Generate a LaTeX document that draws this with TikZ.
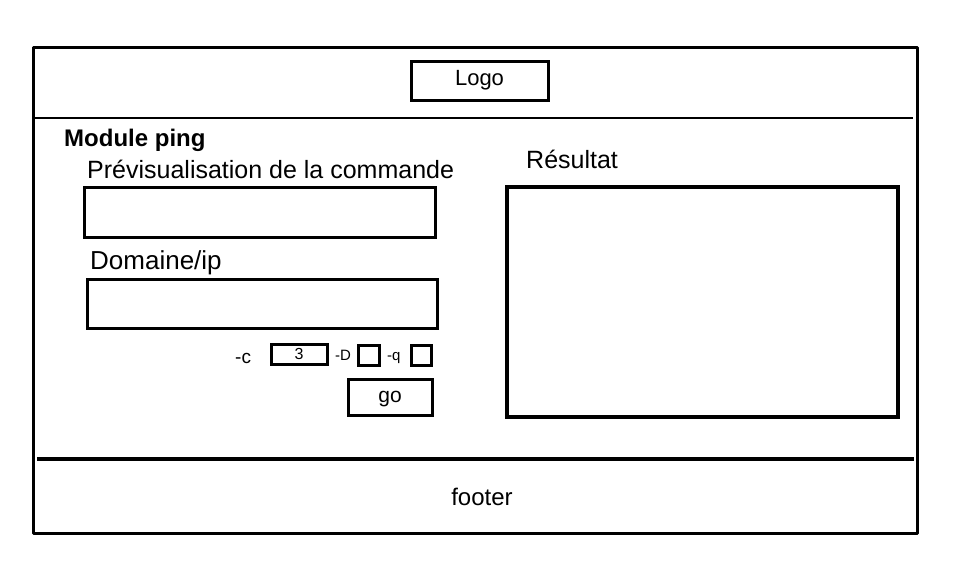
\documentclass[tikz,border=0pt]{standalone}
\usepackage{fontspec}
\setmainfont{Liberation Sans}
\usetikzlibrary{positioning}
\tikzset{
	frame/.style={line width=3pt},
	field/.style={draw, line width=3pt, inner sep=0pt},
	txt/.style={inner sep=0pt, font=\fontsize{25}{28}\selectfont},
	small/.style={inner sep=0pt, font=\fontsize{16}{18}\selectfont},
	tiny/.style={inner sep=0pt, font=\fontsize{15}{17}\selectfont}
}
\begin{document}
\begin{tikzpicture}[x=1pt, y=-1pt]
		\useasboundingbox (0,0) rectangle (965,568);
		%%%%% PAGE %%%%%
		\draw[frame, line join=round] (33,47) rectangle (917,533);
		\draw[line width=1.5pt] (35,118) -- (913,118);
		\draw[line width=4pt] (37,458.5) -- (914,458.5);
		
		%%%%% HEADER %%%%%
		\node[field, minimum width=137pt, minimum height=39pt, font=\fontsize{22}{24}\selectfont] (logo) at (479.5,80.5) {Logo};
		
		%%%%% FORM %%%%%
		\node[txt, anchor=base west, font=\fontsize{24}{26}\selectfont\bfseries] (title) at (64,146) {Module ping};
		\node[txt, anchor=base west] (previewlbl) at (87,178) {Prévisualisation de la commande};
		\draw[frame] (84,187) rectangle (435,237);
		\node[txt, anchor=base west, font=\fontsize{26}{28}\selectfont] (hostlbl) at (90,269) {Domaine/ip};
		\draw[frame] (87,279) rectangle (437,328);
		
		\node[inner sep=0pt, font=\fontsize{19}{21}\selectfont, anchor=base west] (countlbl) at (235,363) {-c};
		\node[field, minimum width=56pt, minimum height=20pt, text depth=0pt, small] (count) at (299,354) {3};
		\node[tiny, anchor=base west] (dlbl) at (335,360) {-D};
		\draw[frame] (358,345) rectangle (379,365);
		\node[tiny, anchor=base west] (qlbl) at (387,360) {-q};
		\draw[frame] (411,345) rectangle (431,365);
		\node[field, minimum width=84pt, minimum height=36pt, text depth=0pt, font=\fontsize{21}{23}\selectfont] (go) at (390,397) {go};
		
		%%%%% RESULT %%%%%
		\node[txt, anchor=base west] (resultlbl) at (526,168) {Résultat};
		\draw[line width=4pt] (507,187) rectangle (898,417);
		
		%%%%% FOOTER %%%%%
		\node[txt, font=\fontsize{24}{26}\selectfont] (footer) at (482,497) {footer};
		%%%%% END %%%%%
\end{tikzpicture}
\end{document}
